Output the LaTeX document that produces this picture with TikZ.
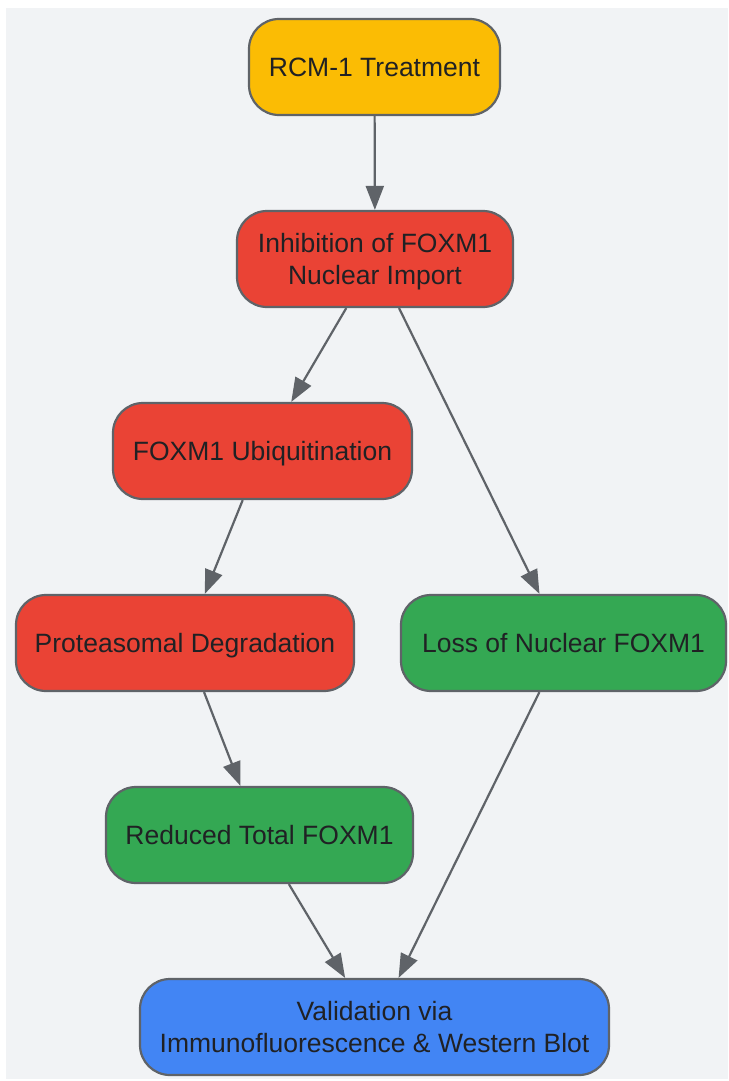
\documentclass[tikz,border=0pt]{standalone}
\usepackage{fontspec}
\setmainfont{Liberation Sans}
\usetikzlibrary{arrows.meta}
\definecolor{bgc}{HTML}{F1F3F5}
\definecolor{edgec}{HTML}{5F6368}
\definecolor{txtc}{HTML}{202124}
\definecolor{yel}{HTML}{FBBC04}
\definecolor{redc}{HTML}{EA4335}
\definecolor{grn}{HTML}{34A853}
\definecolor{blu}{HTML}{4285F4}
\tikzset{
  boxbase/.style={draw=edgec, line width=2.2pt, rounded corners=30pt, minimum height=96pt,
    align=center, text=txtc, font=\fontsize{26.5}{32}\selectfont, inner sep=0pt},
  box/.style={boxbase, text height=19.5pt, text depth=0pt},
  conn/.style={draw=edgec, line width=2.2pt, -{Triangle[length=24pt,width=18pt]}}
}
\begin{document}
\begin{tikzpicture}[x=1pt,y=-1pt]
\useasboundingbox (0,0) rectangle (728,1081);
\fill[bgc] (6,8) rectangle (728,1079);
\node[box, fill=yel, minimum width=251pt] (a) at (374.5,67) {RCM-1 Treatment};
\node[boxbase, fill=redc, minimum width=276pt] (b) at (375,259) {Inhibition of FOXM1\\Nuclear Im\smash{p}ort};
\node[box, fill=redc, minimum width=299pt] (c) at (262.5,451) {FOXM1 Ubiquitination};
\node[box, fill=redc, minimum width=338pt] (d) at (185,643) {Proteasomal Degradation};
\node[box, fill=grn, minimum width=325pt] (e) at (563.5,643) {Loss of Nuclear FOXM1};
\node[box, fill=grn, minimum width=307pt] (f) at (259.5,835) {Reduced Total FOXM1};
\node[boxbase, fill=blu, minimum width=469pt] (g) at (374.5,1027) {Validation via\\Immunofluorescence \& Western Blot};
\draw[conn] (a) -- (b);
\draw[conn] (b) -- (c);
\draw[conn] (b) -- (e);
\draw[conn] (c) -- (d);
\draw[conn] (d) -- (f);
\draw[conn] (e) -- (g);
\draw[conn] (f) -- (g);
\end{tikzpicture}
\end{document}
